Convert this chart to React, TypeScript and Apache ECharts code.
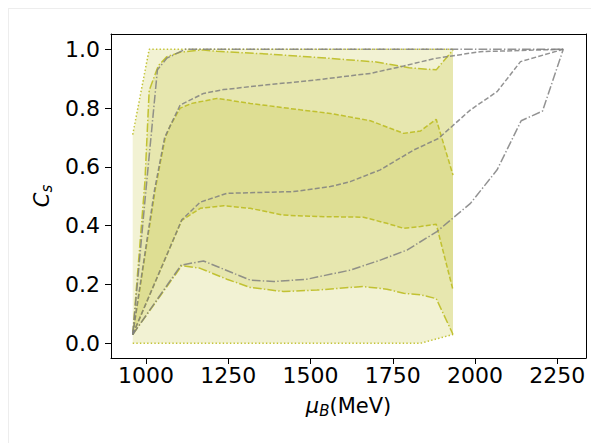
import React, { useEffect, useRef } from "react";
import * as echarts from "echarts";

// ---- data ----
const xTicks = [1000, 1250, 1500, 1750, 2000, 2250];
const yTicks = [0.0, 0.2, 0.4, 0.6, 0.8, 1.0];

// outer band (dotted edges)
const outerUpper = [[960, 0.71], [1010, 1.0], [1933, 1.0]];
const outerLower = [[960, 0.0], [1834, 0.0], [1933, 0.03]];

// middle band (dash-dot edges)
const band2Upper = [
  [960, 0.03], [997, 0.55], [1010, 0.86], [1038, 0.945], [1064, 0.975], [1104, 0.99],
  [1170, 0.998], [1216, 0.993], [1368, 0.984], [1560, 0.969], [1700, 0.957],
  [1800, 0.937], [1882, 0.93], [1933, 0.998],
];
const band2Lower = [
  [960, 0.03], [1109, 0.264], [1165, 0.255], [1246, 0.218], [1317, 0.19], [1418, 0.176],
  [1520, 0.181], [1621, 0.19], [1661, 0.193], [1732, 0.184], [1783, 0.17], [1834, 0.165],
  [1882, 0.152], [1933, 0.03],
];

// inner band (dashed edges)
const band3Upper = [
  [960, 0.03], [1028, 0.52], [1043, 0.61], [1059, 0.7], [1074, 0.74], [1104, 0.8],
  [1140, 0.816], [1216, 0.833], [1317, 0.816], [1469, 0.794], [1560, 0.782], [1682, 0.757],
  [1783, 0.714], [1834, 0.722], [1882, 0.762], [1933, 0.572],
];
const band3Lower = [
  [960, 0.03], [1109, 0.418], [1165, 0.459], [1236, 0.468], [1317, 0.459], [1418, 0.436],
  [1520, 0.431], [1661, 0.429], [1732, 0.408], [1783, 0.391], [1834, 0.397], [1882, 0.405],
  [1933, 0.181],
];

// grey reference curves
const greyDashUpper = [
  [960, 0.03], [1026, 0.52], [1057, 0.7], [1104, 0.81], [1175, 0.85], [1236, 0.863],
  [1368, 0.879], [1520, 0.896], [1621, 0.91], [1682, 0.918], [1783, 0.943], [1874, 0.968],
  [2016, 0.992], [2268, 1.0],
];
const greyDashLower = [
  [960, 0.03], [1109, 0.42], [1165, 0.48], [1246, 0.51], [1449, 0.516], [1560, 0.533],
  [1621, 0.55], [1712, 0.59], [1813, 0.657], [1889, 0.697], [1986, 0.794], [2067, 0.856],
  [2138, 0.958], [2268, 1.0],
];
const greyDashDotUpper = [
  [960, 0.03], [1000, 0.52], [1035, 0.93], [1064, 0.97], [1120, 1.0], [2268, 1.0],
];
const greyDashDotLower = [
  [960, 0.03], [1107, 0.266], [1175, 0.28], [1317, 0.215], [1388, 0.21], [1489, 0.218],
  [1621, 0.249], [1712, 0.283], [1793, 0.317], [1884, 0.38], [1986, 0.476], [2067, 0.59],
  [2140, 0.757], [2205, 0.79], [2268, 1.0],
];

const FONT = "DejaVu Sans";
const FILL = "rgba(188,189,34,0.2)";
const OLIVE_LINE = "rgba(188,189,34,0.9)";
const GREY_LINE = "rgba(128,128,128,0.85)";
const DASHED = [5, 2.2];
const DASHDOT = [8.7, 2.2, 1.4, 2.2];
const DOTTED = [1.4, 2.2];
const X_MIN = 894;
const X_MAX = 2337;
const Y_MIN = -0.05;
const Y_MAX = 1.052;

function bandSeries(upper: number[][], lower: number[][]) {
  return {
    type: "custom",
    coordinateSystem: "cartesian2d",
    data: [[1000, 0.5]],
    silent: true,
    z: 1,
    renderItem: (_params: any, api: any) => {
      const pts = [
        ...upper.map((p) => api.coord(p)),
        ...lower.slice().reverse().map((p) => api.coord(p)),
      ];
      return { type: "polygon", shape: { points: pts }, style: { fill: FILL } };
    },
  };
}

function lineSeries(data: number[][], color: string, dash: number[], z: number) {
  return {
    type: "line",
    data,
    symbol: "none",
    showSymbol: false,
    silent: true,
    clip: false,
    z,
    lineStyle: { color, width: 1.5, type: dash },
  };
}

const frameAxisLine = { show: true, onZero: false, lineStyle: { color: "#000", width: 1 } };

export default function App() {
  const ref = useRef<HTMLDivElement>(null);
  useEffect(() => {
    if (!ref.current) return;
    const chart = echarts.init(ref.current, undefined, { renderer: "svg" });
    chart.setOption({
      animation: false,
      backgroundColor: "#fff",
      grid: { left: 102, top: 25, right: 5, bottom: 85 },
      xAxis: [
        {
          type: "value",
          min: X_MIN,
          max: X_MAX,
          name: "{i|μ}{sub|B}{n|(MeV)}",
          nameLocation: "middle",
          nameGap: 35,
          nameTextStyle: {
            rich: {
              i: { fontFamily: FONT, fontSize: 21, fontStyle: "italic", color: "#000" },
              sub: {
                fontFamily: FONT, fontSize: 15, fontStyle: "italic", color: "#000",
                verticalAlign: "bottom", padding: [10, 0, 0, 0],
              },
              n: { fontFamily: FONT, fontSize: 21, color: "#000" },
            },
          },
          axisLine: frameAxisLine,
          axisTick: {
            show: true, length: 6, inside: false, customValues: xTicks,
            lineStyle: { color: "#000", width: 1 },
          },
          axisLabel: {
            customValues: xTicks, fontFamily: FONT, fontSize: 22, color: "#000", margin: 6,
            formatter: (v: number) => String(v),
          },
          splitLine: { show: false },
        },
        {
          type: "value",
          position: "top",
          min: X_MIN,
          max: X_MAX,
          axisLine: frameAxisLine,
          axisTick: { show: false },
          axisLabel: { show: false },
          splitLine: { show: false },
        },
      ],
      yAxis: [
        {
          type: "value",
          min: Y_MIN,
          max: Y_MAX,
          name: "{i|C}{sub|s}",
          nameLocation: "middle",
          nameGap: 57,
          nameTextStyle: {
            rich: {
              i: { fontFamily: FONT, fontSize: 21, fontStyle: "italic", color: "#000" },
              sub: {
                fontFamily: FONT, fontSize: 15, fontStyle: "italic", color: "#000",
                verticalAlign: "bottom", padding: [10, 0, 0, 0],
              },
            },
          },
          axisLine: frameAxisLine,
          axisTick: {
            show: true, length: 6, inside: false, customValues: yTicks,
            lineStyle: { color: "#000", width: 1 },
          },
          axisLabel: {
            customValues: yTicks, fontFamily: FONT, fontSize: 22, color: "#000", margin: 11,
            formatter: (v: number) => v.toFixed(1),
          },
          splitLine: { show: false },
        },
        {
          type: "value",
          position: "right",
          min: Y_MIN,
          max: Y_MAX,
          axisLine: frameAxisLine,
          axisTick: { show: false },
          axisLabel: { show: false },
          splitLine: { show: false },
        },
      ],
      series: [
        bandSeries(outerUpper, outerLower),
        bandSeries(band2Upper, band2Lower),
        bandSeries(band3Upper, band3Lower),
        lineSeries(outerUpper, OLIVE_LINE, DOTTED, 3),
        lineSeries(outerLower, OLIVE_LINE, DOTTED, 3),
        lineSeries(band2Upper, OLIVE_LINE, DASHDOT, 3),
        lineSeries(band2Lower, OLIVE_LINE, DASHDOT, 3),
        lineSeries(band3Upper, OLIVE_LINE, DASHED, 3),
        lineSeries(band3Lower, OLIVE_LINE, DASHED, 3),
        lineSeries(greyDashUpper, GREY_LINE, DASHED, 4),
        lineSeries(greyDashLower, GREY_LINE, DASHED, 4),
        lineSeries(greyDashDotUpper, GREY_LINE, DASHDOT, 4),
        lineSeries(greyDashDotLower, GREY_LINE, DASHDOT, 4),
      ],
    });
    return () => chart.dispose();
  }, []);
  return (
    <div
      style={{
        position: "fixed",
        left: 8,
        top: 8,
        width: 583,
        height: 435,
        boxSizing: "border-box",
        borderLeft: "1px solid #ededed",
        borderTop: "1px solid #ededed",
        background: "#fff",
      }}
    >
      <div ref={ref} style={{ width: 582, height: 434 }} />
    </div>
  );
}
